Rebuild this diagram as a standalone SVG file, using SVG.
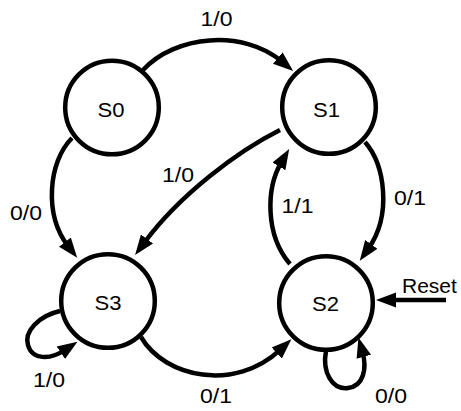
<svg xmlns="http://www.w3.org/2000/svg" width="461" height="411" viewBox="0 0 461 411">
<style>
.node{fill:#fff;stroke:#000;stroke-width:4.5}
.edge{fill:none;stroke:#000;stroke-width:4.5}
.nt{font-family:"Liberation Sans",Arial,sans-serif;font-size:20.5px;text-anchor:middle;fill:#000}
.lb{font-family:"Liberation Sans",Arial,sans-serif;font-size:19.5px;text-anchor:middle;fill:#000}
.rs{font-family:"Liberation Sans",Arial,sans-serif;font-size:21px;fill:#000}
</style>
<defs>
<marker id="ah" markerUnits="userSpaceOnUse" markerWidth="22" markerHeight="18" viewBox="0 -9 22 18" refX="5" refY="0" orient="auto">
<path d="M0,-7.5 L20,0 L0,7.5 z" fill="#000"/>
</marker>
</defs>
<rect width="461" height="411" fill="#fff"/>
<g id="connectors">
<path class="edge" d="M143,70 C175,35 243,29 281.6,61.3" marker-end="url(#ah)"/>
<path class="edge" d="M280,130 C240,150 181,193 144,243" marker-end="url(#ah)"/>
<path class="edge" d="M72,138 C48,162 44,215 68,246" marker-end="url(#ah)"/>
<path class="edge" d="M365,142 C385,165 392,215 368.4,248.5" marker-end="url(#ah)"/>
<path class="edge" d="M290,264 C265,235 266,188 281.5,162" marker-end="url(#ah)"/>
<path class="edge" d="M141,337 C165,378 235,392 280.4,349.6" marker-end="url(#ah)"/>
<path class="edge" d="M60,311 C38,316 24,332 28,345 C32,360 50,360 65,350" marker-end="url(#ah)"/>
<path class="edge" d="M326,351 C322,372 332,390 348,388 C364,386 367,368 362.5,352" marker-end="url(#ah)"/>
<path class="edge" d="M446,300 L391,300" marker-end="url(#ah)"/>
<text class="lb" x="216.5" y="26" textLength="32" lengthAdjust="spacingAndGlyphs">1/0</text>
<text class="lb" x="178" y="182" textLength="32" lengthAdjust="spacingAndGlyphs">1/0</text>
<text class="lb" x="26" y="220" textLength="32" lengthAdjust="spacingAndGlyphs">0/0</text>
<text class="lb" x="297.5" y="213" textLength="32" lengthAdjust="spacingAndGlyphs">1/1</text>
<text class="lb" x="410" y="205" textLength="32" lengthAdjust="spacingAndGlyphs">0/1</text>
<text class="lb" x="49" y="387" textLength="32" lengthAdjust="spacingAndGlyphs">1/0</text>
<text class="lb" x="216" y="403" textLength="32" lengthAdjust="spacingAndGlyphs">0/1</text>
<text class="lb" x="391" y="403" textLength="32" lengthAdjust="spacingAndGlyphs">0/0</text>
<text class="rs" x="402" y="293">Reset</text>
</g>
<g id="S0"><circle class="node" cx="112" cy="107.5" r="46.8"/><text class="nt" x="111" y="116.5" textLength="27" lengthAdjust="spacingAndGlyphs">S0</text></g>
<g id="S1"><circle class="node" cx="329" cy="107" r="46.8"/><text class="nt" x="326.5" y="117" textLength="27" lengthAdjust="spacingAndGlyphs">S1</text></g>
<g id="S3"><circle class="node" cx="108" cy="301" r="46.8"/><text class="nt" x="108" y="309.5" textLength="27" lengthAdjust="spacingAndGlyphs">S3</text></g>
<g id="S2"><circle class="node" cx="326" cy="303" r="46.8"/><text class="nt" x="325.5" y="310.5" textLength="27" lengthAdjust="spacingAndGlyphs">S2</text></g>
</svg>
